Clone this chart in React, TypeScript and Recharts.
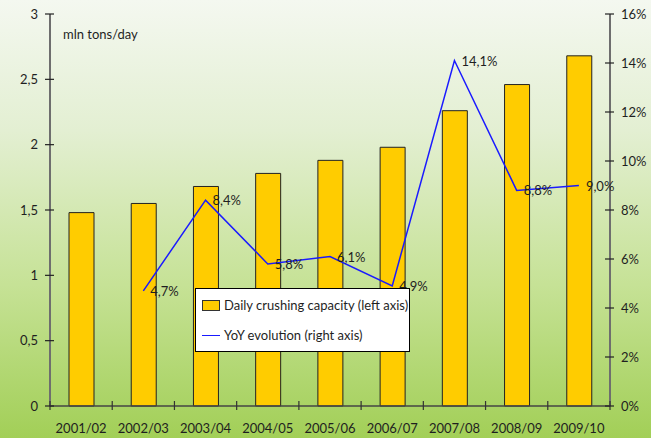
import React from 'react';
import {
  ComposedChart,
  Bar,
  Line,
  XAxis,
  YAxis,
  LabelList
} from 'recharts';

const seasons = ['2001/02', '2002/03', '2003/04', '2004/05', '2005/06', '2006/07', '2007/08', '2008/09', '2009/10'];
const capacity = [1.48, 1.55, 1.68, 1.78, 1.88, 1.98, 2.26, 2.46, 2.68];
const yoyGrowth: (number | null)[] = [null, 4.7, 8.4, 5.8, 6.1, 4.9, 14.1, 8.8, 9.0];
const leftTicks = [0, 0.5, 1, 1.5, 2, 2.5, 3];
const rightTicks = [0, 2, 4, 6, 8, 10, 12, 14, 16];

const FONT = 'Lato, "Open Sans", sans-serif';
const TEXT = '#1f1f1f';
const AXIS = '#6e6e6e';
const PLOT_W = 560;
const HALF_BAND = PLOT_W / seasons.length / 2;

const data = seasons.map((s, i) => ({
  season: s,
  capacity: capacity[i],
  yoy: yoyGrowth[i]
}));

const comma = (v: number, digits?: number) =>
  (digits != null ? v.toFixed(digits) : String(v)).replace('.', ',');

const LeftTick = (props: any) => {
  const { x, y, payload } = props;
  return (
    <g>
      <line x1={x - 5} x2={x + 4} y1={y} y2={y} stroke="#222" strokeWidth={1.2} />
      <text x={x - 12} y={y} dy={4.5} textAnchor="end" fontSize={13} fill={TEXT} fontFamily={FONT}>
        {comma(payload.value)}
      </text>
    </g>
  );
};

const RightTick = (props: any) => {
  const { x, y, payload } = props;
  return (
    <g>
      <line x1={x - 5} x2={x + 4} y1={y} y2={y} stroke="#222" strokeWidth={1.2} />
      <text x={x + 11} y={y} dy={4.5} textAnchor="start" fontSize={13} fill={TEXT} fontFamily={FONT}>
        {payload.value}%
      </text>
    </g>
  );
};

const BottomTick = (props: any) => {
  const { x, y, payload, index } = props;
  return (
    <g>
      <line x1={x - HALF_BAND} x2={x - HALF_BAND} y1={y - 5} y2={y + 4} stroke="#333" strokeWidth={1.2} />
      {index === seasons.length - 1 && (
        <line x1={x + HALF_BAND} x2={x + HALF_BAND} y1={y - 5} y2={y + 4} stroke="#333" strokeWidth={1.2} />
      )}
      <text x={x} y={y + 27} textAnchor="middle" fontSize={13} fill={TEXT} fontFamily={FONT}>
        {payload.value}
      </text>
    </g>
  );
};

const PointLabel = (props: any) => {
  const { x, y, value } = props;
  if (value == null) return null;
  return (
    <text x={x + 7} y={y} dy={5} fontSize={13} fill={TEXT} fontFamily={FONT}>
      {comma(value, 1)}%
    </text>
  );
};

// legend drawn as an overlay so it does not shrink the plot area
const LegendBox = () => (
  <div
    style={{
      position: 'absolute',
      left: 195,
      top: 288,
      width: 215,
      height: 64,
      background: '#fff',
      border: '1px solid #000',
      fontFamily: FONT,
      fontSize: 13,
      color: TEXT,
      boxSizing: 'border-box',
      whiteSpace: 'nowrap'
    }}
  >
    <div style={{ display: 'flex', alignItems: 'center', height: 32, paddingLeft: 6 }}>
      <span style={{ width: 16, height: 9, background: '#ffcc00', border: '1px solid #333', marginRight: 4 }} />
      <span>Daily crushing capacity (left axis)</span>
    </div>
    <div style={{ display: 'flex', alignItems: 'center', height: 28, paddingLeft: 6 }}>
      <span style={{ width: 18, height: 0, borderTop: '1.5px solid #1a1aff', marginRight: 4 }} />
      <span>YoY evolution (right axis)</span>
    </div>
  </div>
);

export default function App() {
  return (
    <div
      style={{
        position: 'absolute',
        left: 0,
        top: 0,
        width: 651,
        height: 438,
        background: 'linear-gradient(to bottom, #f4f8f0 0%, #e3efd2 30%, #c6e296 65%, #a2cf57 100%)'
      }}
    >
      <div
        style={{
          position: 'absolute',
          left: 63,
          top: 26,
          fontFamily: FONT,
          fontSize: 13,
          color: TEXT
        }}
      >
        mln tons/day
      </div>
      <ComposedChart
        width={651}
        height={438}
        data={data}
        margin={{ top: 14, right: 0, bottom: 0, left: 0 }}
      >
        <XAxis
          dataKey="season"
          height={32}
          stroke="#444"
          strokeWidth={1.5}
          tickLine={false}
          tickSize={0}
          tickMargin={0}
          interval={0}
          tick={<BottomTick />}
        />
        <YAxis
          yAxisId="left"
          width={50}
          domain={[0, 3]}
          ticks={leftTicks}
          stroke={AXIS}
          strokeWidth={2}
          tickLine={false}
          tickSize={0}
          tickMargin={0}
          tick={<LeftTick />}
        />
        <YAxis
          yAxisId="right"
          orientation="right"
          width={41}
          domain={[0, 16]}
          ticks={rightTicks}
          stroke={AXIS}
          strokeWidth={2}
          tickLine={false}
          tickSize={0}
          tickMargin={0}
          tick={<RightTick />}
        />
        <Bar
          yAxisId="left"
          dataKey="capacity"
          name="Daily crushing capacity (left axis)"
          fill="#ffcc00"
          stroke="#222"
          strokeWidth={1}
          barSize={25}
          isAnimationActive={false}
        />
        <Line
          yAxisId="right"
          dataKey="yoy"
          name="YoY evolution (right axis)"
          stroke="#1a1aff"
          strokeWidth={1.5}
          dot={false}
          isAnimationActive={false}
        >
          <LabelList dataKey="yoy" content={<PointLabel />} />
        </Line>
      </ComposedChart>
      <LegendBox />
    </div>
  );
}
